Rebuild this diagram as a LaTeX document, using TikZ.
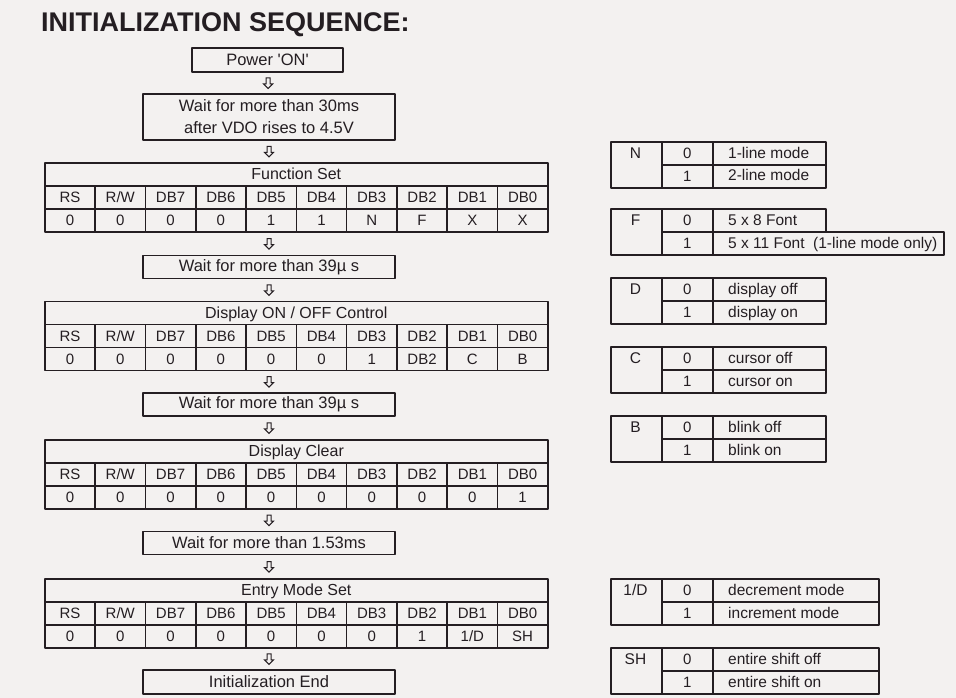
\documentclass[tikz,border=0pt]{standalone}
\usepackage{fontspec}
\setmainfont{Liberation Sans}
\definecolor{ink}{RGB}{36,30,34}
\definecolor{paper}{RGB}{243,241,240}
% one instruction register: title row, bit names, bit values
\newcommand{\regtable}[4]{%
	\node[cell,minimum width=503pt,font=\fontsize{16}{18}\selectfont] (#1) at (44,#2) {#3};
	\foreach \h [count=\i from 0] in {RS,{R/W},DB7,DB6,DB5,DB4,DB3,DB2,DB1,DB0}
		\node[cell] (#1-h\i) at (44+50.3*\i,#2+23) {\h};
	\foreach \v [count=\i from 0] in {#4}
		\node[cell] (#1-v\i) at (44+50.3*\i,#2+46) {\v};
}
% meaning of one bit
\newcommand{\bitlegend}[7]{%
	\node[cell,minimum width=51pt,minimum height=46pt] (#1) at (610,#2) {};
	\node[txt] (#1-key) at (635.5,#2+17) {#3};
	\node[cell,minimum width=51pt] (#1-0) at (661,#2) {0};
	\node[cell,minimum width=51pt] (#1-1) at (661,#2+23) {1};
	\node[cell,minimum width=#5-712] (#1-d0) at (712,#2) {};
	\node[cell,minimum width=#7-712] (#1-d1) at (712,#2+23) {};
	\node[txt,anchor=base west] (#1-t0) at (728,#2+17) {#4};
	\node[txt,anchor=base west] (#1-t1) at (728,#2+40) {#6};
}
\begin{document}
\begin{tikzpicture}[x=1pt,y=-1pt,line join=round,
	box/.style={draw=ink,line width=1.6pt,minimum width=252pt,minimum height=23pt,inner sep=0pt,text=ink,font=\fontsize{16.5}{22}\selectfont},
	cell/.style={draw=ink,line width=1.6pt,minimum width=50.3pt,minimum height=23pt,inner sep=0pt,anchor=north west,text height=12pt,text depth=1.5pt,text=ink,font=\fontsize{15}{18}\selectfont},
	txt/.style={anchor=base,inner sep=0pt,text=ink,font=\fontsize{15.5}{18}\selectfont},
	flowarrow/.pic={\draw[ink,line width=1pt,line join=miter] (-2,-5) -- (2,-5) -- (2,1) -- (4.5,1) -- (0,5.5) -- (-4.5,1) -- (-2,1) -- cycle;}]
	\useasboundingbox (0,0) rectangle (956,698);
	\fill[paper] (0,0) rectangle (956,698);
	\node[anchor=base west,inner sep=0pt,text=ink,font=\fontsize{27}{30}\bfseries\selectfont] (title) at (41,32) {INITIALIZATION SEQUENCE:};
	
	% the sequence
	\node[box,minimum width=151pt,minimum height=24pt] (power) at (267.5,60) {Power \textquotesingle ON\textquotesingle};
	\node[box,minimum height=46pt,align=center] (wait0) at (269,117) {Wait for more than 30ms\\after VDO rises to 4.5V};
	\regtable{fs}{162}{Function Set}{0,0,0,0,1,1,N,F,X,X}
	\node[box] (wait1) at (269,267) {Wait for more than 39µ s};
	\regtable{dc}{300.5}{Display ON / OFF Control}{0,0,0,0,0,0,1,DB2,C,B}
	\node[box] (wait2) at (269,404.5) {Wait for more than 39µ s};
	\regtable{cl}{439}{Display Clear}{0,0,0,0,0,0,0,0,0,1}
	\node[box] (wait3) at (269,543) {Wait for more than 1.53ms};
	\regtable{em}{578}{Entry Mode Set}{0,0,0,0,0,0,0,1,{1/D},SH}
	\node[box,minimum height=24pt] (done) at (269,682) {Initialization End};
	
	\path (power) -- (wait0) pic[pos=.5]{flowarrow};
	\path (wait0) -- (fs.north -| wait0) pic[pos=.5]{flowarrow};
	\path (fs-v5.south -| wait1) -- (wait1) pic[pos=.5]{flowarrow};
	\path (wait1) -- (dc.north -| wait1) pic[pos=.5]{flowarrow};
	\path (dc-v5.south -| wait2) -- (wait2) pic[pos=.5]{flowarrow};
	\path (wait2) -- (cl.north -| wait2) pic[pos=.5]{flowarrow};
	\path (cl-v5.south -| wait3) -- (wait3) pic[pos=.5]{flowarrow};
	\path (wait3) -- (em.north -| wait3) pic[pos=.5]{flowarrow};
	\path (em-v5.south -| done) -- (done) pic[pos=.5]{flowarrow};
	
	% bit meanings
	\bitlegend{n}{141}{N}{1-line mode}{825}{2-line mode}{825}
	\bitlegend{f}{208}{F}{5 x 8 Font}{825}{5 x 11 Font\ \ (1-line mode only)}{943}
	\bitlegend{d}{277}{D}{display off}{825}{display on}{825}
	\bitlegend{c}{346}{C}{cursor off}{825}{cursor on}{825}
	\bitlegend{b}{415}{B}{blink off}{825}{blink on}{825}
	\bitlegend{id}{578}{1/D}{decrement mode}{878}{increment mode}{878}
	\bitlegend{sh}{647}{SH}{entire shift off}{878}{entire shift on}{878}
\end{tikzpicture}
\end{document}
